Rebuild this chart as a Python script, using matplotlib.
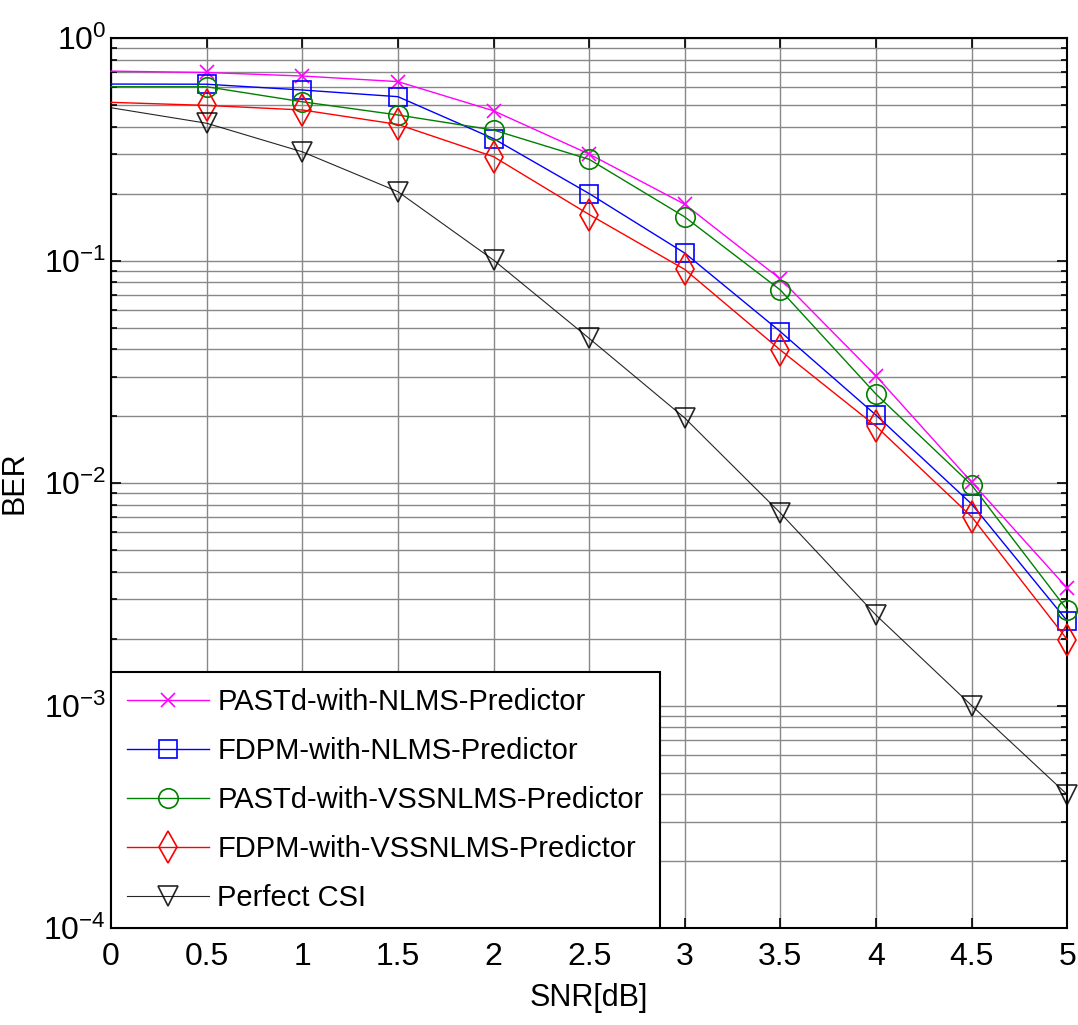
import numpy as np
import matplotlib
matplotlib.use("Agg")
import matplotlib.pyplot as plt
from matplotlib.ticker import LogLocator, NullFormatter, FixedLocator

plt.rcParams["font.family"] = ["Liberation Sans", "DejaVu Sans"]

snr = [0, 0.5, 1, 1.5, 2, 2.5, 3, 3.5, 4, 4.5, 5]
x_ticks = [0, 0.5, 1, 1.5, 2, 2.5, 3, 3.5, 4, 4.5, 5]
x_tick_labels = ["0", "0.5", "1", "1.5", "2", "2.5", "3", "3.5", "4", "4.5", "5"]

pastd_nlms = [0.71, 0.70, 0.675, 0.637, 0.471, 0.301, 0.179, 0.0826, 0.0303, 0.0101, 0.00337]
fdpm_nlms = [0.621, 0.62, 0.584, 0.545, 0.353, 0.200, 0.108, 0.0479, 0.0202, 0.00805, 0.0024]
pastd_vss = [0.604, 0.604, 0.517, 0.451, 0.386, 0.285, 0.157, 0.0737, 0.0251, 0.0098, 0.00269]
fdpm_vss = [0.514, 0.498, 0.475, 0.409, 0.293, 0.161, 0.0912, 0.0396, 0.018, 0.00706, 0.00198]
perfect = [0.486, 0.414, 0.308, 0.204, 0.1005, 0.0447, 0.0196, 0.00733, 0.00255, 0.001, 0.000398]

labels = [
    "PASTd-with-NLMS-Predictor",
    "FDPM-with-NLMS-Predictor",
    "PASTd-with-VSSNLMS-Predictor",
    "FDPM-with-VSSNLMS-Predictor",
    "Perfect CSI",
]

fig = plt.figure(figsize=(10.78, 10.25), dpi=100)
ax = fig.add_axes([0.103, 0.0946, 0.887, 0.8683])

styles = [
    (pastd_nlms, "#ff00ff", "x", 10, labels[0]),
    (fdpm_nlms, "#0000ff", "s", 13, labels[1]),
    (pastd_vss, "#008000", "o", 14, labels[2]),
    (fdpm_vss, "#ff0000", "d", 16, labels[3]),
    (perfect, "#000000", "v", 15, labels[4]),
]

for vals, col, mk, ms, lab in styles:
    lw = 0.8 if col == "#000000" else 1.0
    ax.semilogy(snr, vals, color=col, lw=lw, marker=mk, markersize=ms,
                markerfacecolor="none", markeredgecolor=col, markeredgewidth=1.2,
                markevery=slice(1, None), label=lab, clip_on=False, zorder=3,
                alpha=0.85 if col == "#000000" else 1.0)

ax.set_xlim(0, 5)
ax.set_ylim(1e-4, 1)
ax.xaxis.set_major_locator(FixedLocator(x_ticks))
ax.set_xticklabels(x_tick_labels)
ax.yaxis.set_major_locator(LogLocator(base=10, numticks=10))
ax.yaxis.set_minor_locator(LogLocator(base=10, subs=np.arange(2, 10), numticks=20))
ax.yaxis.set_minor_formatter(NullFormatter())

ax.grid(True, which="major", color="#888888", lw=1.0)
ax.grid(True, which="minor", axis="y", color="#888888", lw=1.0)
ax.set_axisbelow(True)

ax.tick_params(which="both", direction="in", top=True, right=True, labelsize=23)
ax.tick_params(axis="x", pad=10)
ax.tick_params(which="major", length=7, width=1.2)
ax.tick_params(which="minor", length=4, width=1.2)
for s in ax.spines.values():
    s.set_linewidth(1.5)

ax.set_xlabel("SNR[dB]", fontsize=22, labelpad=8)
ax.set_ylabel("BER", fontsize=22, labelpad=10)

leg = ax.legend(loc="lower left", bbox_to_anchor=(0.0, 0.0), fontsize=21,
                frameon=True, fancybox=False, edgecolor="black", framealpha=1,
                borderaxespad=0, handlelength=2.8, handletextpad=0.3,
                labelspacing=0.72, borderpad=0.55)
leg.set_zorder(5)
leg.get_frame().set_linewidth(1.5)

fig.savefig("out.png", dpi=100, facecolor="white")
